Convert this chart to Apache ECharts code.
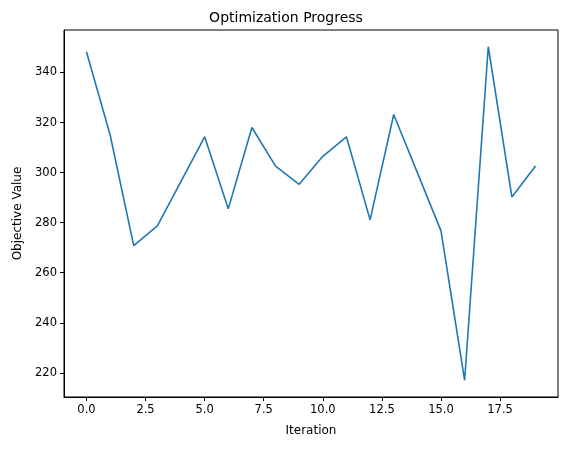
<!DOCTYPE html>
<html>
<head>
<meta charset="utf-8">
<script src="https://cdn.jsdelivr.net/npm/echarts@6/dist/echarts.min.js"></script>
<style>html,body{margin:0;padding:0;background:#fff}#chart{width:572px;height:454px}</style>
</head>
<body>
<div id="chart"></div>
<script>
const iterations = [0,1,2,3,4,5,6,7,8,9,10,11,12,13,14,15,16,17,18,19];
const objective = [348.3,315.1,270.8,278.7,296.5,314.3,285.5,318.0,302.6,295.3,306.5,314.3,281.1,323.2,300.0,276.7,217.0,350.3,290.2,302.6];
const xTicks = [0,2.5,5,7.5,10,12.5,15,17.5];
const yTicks = [220,240,260,280,300,320,340];

const font = 'DejaVu Sans';
const pad = 0.05;
const xMin = -19 * pad, xMax = 19 + 19 * pad;
const yLo = Math.min(...objective), yHi = Math.max(...objective);
const yMin = yLo - (yHi - yLo) * pad, yMax = yHi + (yHi - yLo) * pad;

let myChart = echarts.init(document.getElementById('chart'));
let option = {
    animation: false,
    title: {
        text: 'Optimization Progress', left: 'center', top: 6,
        textStyle: { fontFamily: font, fontSize: 14, fontWeight: 'normal', color: '#000' }
    },
    grid: { left: 64, right: 14, top: 30, bottom: 57, show: true, borderColor: '#000', borderWidth: 1 },
    xAxis: {
        type: 'value', min: xMin, max: xMax,
        name: 'Iteration', nameLocation: 'middle', nameGap: 28,
        nameTextStyle: { fontFamily: font, fontSize: 12, color: '#000' },
        axisLine: { show: true, onZero: false, lineStyle: { color: '#000' } },
        axisTick: { show: true, inside: false, length: 4, customValues: xTicks, lineStyle: { color: '#000' } },
        axisLabel: { customValues: xTicks, fontFamily: font, fontSize: 11.5, color: '#000', margin: 7,
            formatter: v => v.toFixed(1) },
        splitLine: { show: false }
    },
    yAxis: {
        type: 'value', min: yMin, max: yMax,
        name: 'Objective Value', nameLocation: 'middle', nameGap: 40,
        nameTextStyle: { fontFamily: font, fontSize: 12, color: '#000' },
        axisLine: { show: true, onZero: false, lineStyle: { color: '#000' } },
        axisTick: { show: true, inside: false, length: 4, customValues: yTicks, lineStyle: { color: '#000' } },
        axisLabel: { customValues: yTicks, fontFamily: font, fontSize: 11.5, color: '#000', margin: 7 },
        splitLine: { show: false }
    },
    series: [{
        type: 'line',
        data: iterations.map((x, i) => [x, objective[i]]),
        showSymbol: false,
        lineStyle: { color: '#1f77b4', width: 1.6 }
    }]
};
myChart.setOption(option, true);
</script>
</body>
</html>
